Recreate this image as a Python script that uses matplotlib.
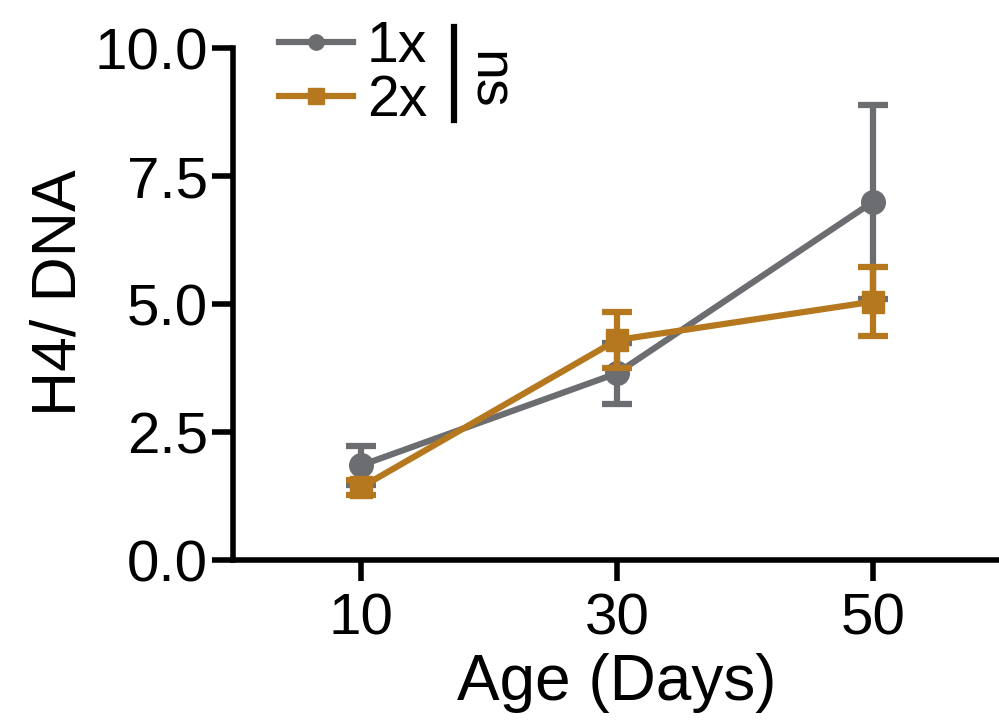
import numpy as np
import matplotlib.pyplot as plt
from matplotlib.lines import Line2D

plt.rcParams['font.family'] = ['Liberation Sans', 'DejaVu Sans']

age = [10, 30, 50]
h4_1x = [1.85, 3.65, 7.0]
err_1x = [0.38, 0.6, 1.9]
h4_2x = [1.42, 4.3, 5.05]
err_2x = [0.15, 0.55, 0.68]

gris = '#6c6d70'
orange = '#b5781f'

fig = plt.figure(figsize=(9.99, 7.2), dpi=100)
ax = fig.add_axes([0.233, 0.222, 0.769, 0.711])

ax.errorbar(age, h4_1x, yerr=err_1x, color=gris, lw=4.5, marker='o', ms=17,
            mfc=gris, mec=gris, capsize=11, capthick=4.5, elinewidth=4.5, zorder=3)
ax.errorbar(age, h4_2x, yerr=err_2x, color=orange, lw=4.5, marker='s', ms=16,
            mfc=orange, mec=orange, capsize=11, capthick=4.5, elinewidth=4.5, zorder=4)

ax.set_xlim(0, 60)
ax.set_ylim(0, 10)
ax.set_xticks(age)
ax.set_yticks([0, 2.5, 5, 7.5, 10])
ax.set_yticklabels(['0.0', '2.5', '5.0', '7.5', '10.0'])

for s in ['top', 'right']:
    ax.spines[s].set_visible(False)
for s in ['left', 'bottom']:
    ax.spines[s].set_linewidth(4)
ax.tick_params(width=4, length=15, labelsize=42, pad=3)
ax.tick_params(axis='x', pad=8)

ax.set_xlabel('Age (Days)', fontsize=46, labelpad=5)
ax.set_ylabel('H4/ DNA', fontsize=45, labelpad=4)
ax.yaxis.label.set_y(0.523)

handles = [Line2D([], [], color=gris, lw=4.5, marker='o', ms=11),
           Line2D([], [], color=orange, lw=4.5, marker='s', ms=11)]
ax.legend(handles, ['1x', '2x'], loc='upper left', bbox_to_anchor=(0.06, 1.055),
          frameon=False, fontsize=41, handlelength=1.3, handletextpad=0.25,
          labelspacing=0.0, borderpad=0, borderaxespad=0)

# barre + ns
fig.add_artist(Line2D([0.454, 0.454], [0.962, 0.833], color='black', lw=4.5))
fig.text(0.487, 0.889, 'ns', rotation=270, fontsize=40, ha='center', va='center')

plt.savefig('out.png', dpi=100)
